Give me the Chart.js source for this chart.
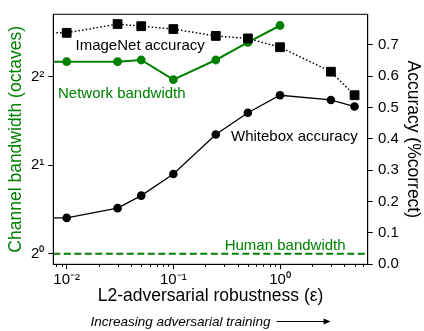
<!DOCTYPE html>
<html>
<head>
<meta charset="utf-8">
<script src="https://cdn.jsdelivr.net/npm/chart.js@4.4.1/dist/chart.umd.min.js"></script>
<style>
  html, body { margin: 0; padding: 0; background: #fff; }
  canvas { display: block; }
</style>
</head>
<body>
<canvas id="chart" width="424" height="331"></canvas>
<script>
// L2 attack budgets of the robust models (0 = standard training)
const epsilons = [0, 0.01, 0.03, 0.05, 0.1, 0.25, 0.5, 1, 3, 5];
const imagenetAccuracy = [0.738, 0.738, 0.766, 0.759, 0.750, 0.728, 0.720, 0.692, 0.614, 0.539];
const whiteboxAccuracy = [0.148, 0.148, 0.179, 0.219, 0.288, 0.414, 0.483, 0.539, 0.524, 0.503];
// channel bandwidth in octaves, measured for eps 0 .. 1
const networkBandwidth = [4.51, 4.51, 4.51, 4.57, 3.92, 4.57, 5.25, 5.99];
const humanBandwidth = 1;

const xTickValues = [0.01, 0.1, 1];
const xTickLabels = ['10\u207B\u00B2', '10\u207B\u00B9', '10\u2070'];
const bandwidthTickValues = [1, 2, 4];
const bandwidthTickLabels = ['2\u2070', '2\u00B9', '2\u00B2'];
const accuracyTickValues = [0, 0.1, 0.2, 0.3, 0.4, 0.5, 0.6, 0.7];

// axis limits
const X_MIN = 0.00749, X_MAX = 6.64;
const BW_MIN = 0.920, BW_MAX = 6.54;
const ACC_MIN = 0, ACC_MAX = 0.797;

// a log axis cannot show eps = 0, so standard training sits far off to the left
const STANDARD_TRAINING_X = 1e-9;

const GREEN = '#008000';
const FONT = "'Liberation Sans', Arial, Helvetica, sans-serif";

const toPoints = (values) => values.map((v, i) => ({
  x: epsilons[i] === 0 ? STANDARD_TRAINING_X : epsilons[i],
  y: v
}));

const seriesLabels = [
  { text: 'ImageNet accuracy', eps: 0.0121, acc: 0.683, color: '#000' },
  { text: 'Network bandwidth', eps: 0.00829, acc: 0.530, color: GREEN },
  { text: 'Whitebox accuracy', eps: 0.347, acc: 0.393, color: '#000' },
  { text: 'Human bandwidth', eps: 0.303, acc: 0.0454, color: GREEN }
];

const decorations = {
  id: 'decorations',
  afterDraw(chart) {
    const { ctx, chartArea: a, scales } = chart;
    const x = scales.x, acc = scales.acc;
    ctx.save();

    // minor ticks on the log x axis
    ctx.strokeStyle = '#000';
    ctx.lineWidth = 1;
    ctx.beginPath();
    for (let k = -3; k <= 0; k++) {
      for (let m = 2; m <= 9; m++) {
        const v = m * Math.pow(10, k);
        if (v < X_MIN || v > X_MAX) continue;
        const px = Math.round(x.getPixelForValue(v)) + 0.5;
        ctx.moveTo(px, a.bottom);
        ctx.lineTo(px, a.bottom + 2.5);
      }
    }
    ctx.stroke();

    // axes frame
    ctx.strokeRect(a.left, a.top, a.right - a.left, a.bottom - a.top);

    // series labels
    ctx.font = '15px ' + FONT;
    ctx.textAlign = 'left';
    ctx.textBaseline = 'alphabetic';
    seriesLabels.forEach(l => {
      ctx.fillStyle = l.color;
      ctx.fillText(l.text, x.getPixelForValue(l.eps), acc.getPixelForValue(l.acc));
    });

    // direction note under the x axis
    const note = 'Increasing adversarial training';
    ctx.font = 'italic 13.5px ' + FONT;
    const tw = ctx.measureText(note).width;
    const gap = 6, arrowLen = 54;
    const cx = (a.left + a.right) / 2;
    const startX = cx - (tw + gap + arrowLen) / 2;
    const baseY = 326;
    ctx.fillStyle = '#000';
    ctx.fillText(note, startX, baseY);
    const ay = baseY - 4.5;
    const ax0 = startX + tw + gap, ax1 = ax0 + arrowLen;
    ctx.lineWidth = 1.2;
    ctx.beginPath();
    ctx.moveTo(ax0, ay);
    ctx.lineTo(ax1 - 5, ay);
    ctx.stroke();
    ctx.beginPath();
    ctx.moveTo(ax1, ay);
    ctx.lineTo(ax1 - 7, ay - 3);
    ctx.lineTo(ax1 - 7, ay + 3);
    ctx.closePath();
    ctx.fill();

    ctx.restore();
  }
};

Chart.defaults.font.family = FONT;
Chart.defaults.color = '#000';

new Chart(document.getElementById('chart'), {
  type: 'line',
  data: {
    datasets: [
      {
        label: 'ImageNet accuracy',
        data: toPoints(imagenetAccuracy),
        yAxisID: 'acc',
        borderColor: '#000',
        backgroundColor: '#000',
        borderWidth: 1.5,
        borderDash: [1.5, 2.2],
        pointStyle: 'rect',
        pointRadius: 6.2,
        pointBorderWidth: 1,
        pointBorderColor: '#000',
        pointBackgroundColor: '#000'
      },
      {
        label: 'Whitebox accuracy',
        data: toPoints(whiteboxAccuracy),
        yAxisID: 'acc',
        borderColor: '#000',
        backgroundColor: '#000',
        borderWidth: 1.3,
        pointStyle: 'circle',
        pointRadius: 4.3,
        pointBorderWidth: 0,
        pointBackgroundColor: '#000'
      },
      {
        label: 'Network bandwidth',
        data: toPoints(networkBandwidth),
        yAxisID: 'bw',
        borderColor: GREEN,
        backgroundColor: GREEN,
        borderWidth: 2,
        pointStyle: 'circle',
        pointRadius: 4.4,
        pointBorderWidth: 0,
        pointBackgroundColor: GREEN
      },
      {
        label: 'Human bandwidth',
        data: [{ x: X_MIN, y: humanBandwidth }, { x: X_MAX, y: humanBandwidth }],
        yAxisID: 'bw',
        borderColor: GREEN,
        borderWidth: 2,
        borderDash: [7, 3.5],
        pointRadius: 0
      }
    ]
  },
  options: {
    animation: false,
    responsive: false,
    devicePixelRatio: 1,
    parsing: true,
    layout: { padding: { top: 6, left: 0, right: 0, bottom: 0 } },
    plugins: {
      legend: { display: false },
      tooltip: { enabled: false }
    },
    elements: { line: { tension: 0 } },
    scales: {
      x: {
        type: 'logarithmic',
        position: 'bottom',
        min: X_MIN,
        max: X_MAX,
        bounds: 'data',
        afterBuildTicks: s => { s.ticks = xTickValues.map(v => ({ value: v })); },
        afterFit: s => { s.height = 66.7; },
        ticks: {
          callback: (v, i) => xTickLabels[i],
          font: { size: 15 },
          color: '#000',
          padding: 2,
          maxRotation: 0,
          autoSkip: false
        },
        grid: { drawOnChartArea: false, drawTicks: true, tickLength: 5, tickColor: '#000', tickWidth: 1 },
        border: { display: true, color: '#000', width: 1 },
        title: {
          display: true,
          text: 'L2-adversarial robustness (\u03B5)',
          font: { size: 17.5 },
          color: '#000',
          padding: { top: 0, bottom: 24.2 }
        }
      },
      bw: {
        type: 'logarithmic',
        position: 'left',
        min: BW_MIN,
        max: BW_MAX,
        bounds: 'data',
        afterBuildTicks: s => { s.ticks = bandwidthTickValues.map(v => ({ value: v })); },
        afterFit: s => { s.width = 53.3; },
        ticks: {
          callback: (v, i) => bandwidthTickLabels[i],
          font: { size: 15 },
          color: '#000',
          padding: 4,
          autoSkip: false
        },
        grid: { drawOnChartArea: false, drawTicks: true, tickLength: 5, tickColor: '#000', tickWidth: 1 },
        border: { display: true, color: '#000', width: 1 },
        title: {
          display: true,
          text: 'Channel bandwidth (octaves)',
          font: { size: 17.5 },
          color: GREEN,
          padding: { top: 5.9, bottom: 0 }
        }
      },
      acc: {
        type: 'linear',
        position: 'right',
        min: ACC_MIN,
        max: ACC_MAX,
        bounds: 'data',
        afterBuildTicks: s => { s.ticks = accuracyTickValues.map(v => ({ value: v })); },
        afterFit: s => { s.width = 56.3; },
        ticks: {
          callback: (v) => Number(v).toFixed(1),
          font: { size: 15 },
          color: '#000',
          padding: 5.3,
          autoSkip: false
        },
        grid: { drawOnChartArea: false, drawTicks: true, tickLength: 5, tickColor: '#000', tickWidth: 1 },
        border: { display: true, color: '#000', width: 1 },
        title: {
          display: true,
          text: 'Accuracy (%correct)',
          font: { size: 17.5 },
          color: '#000',
          padding: { top: 1.1, bottom: 0 }
        }
      }
    }
  },
  plugins: [decorations]
});
</script>
</body>
</html>
